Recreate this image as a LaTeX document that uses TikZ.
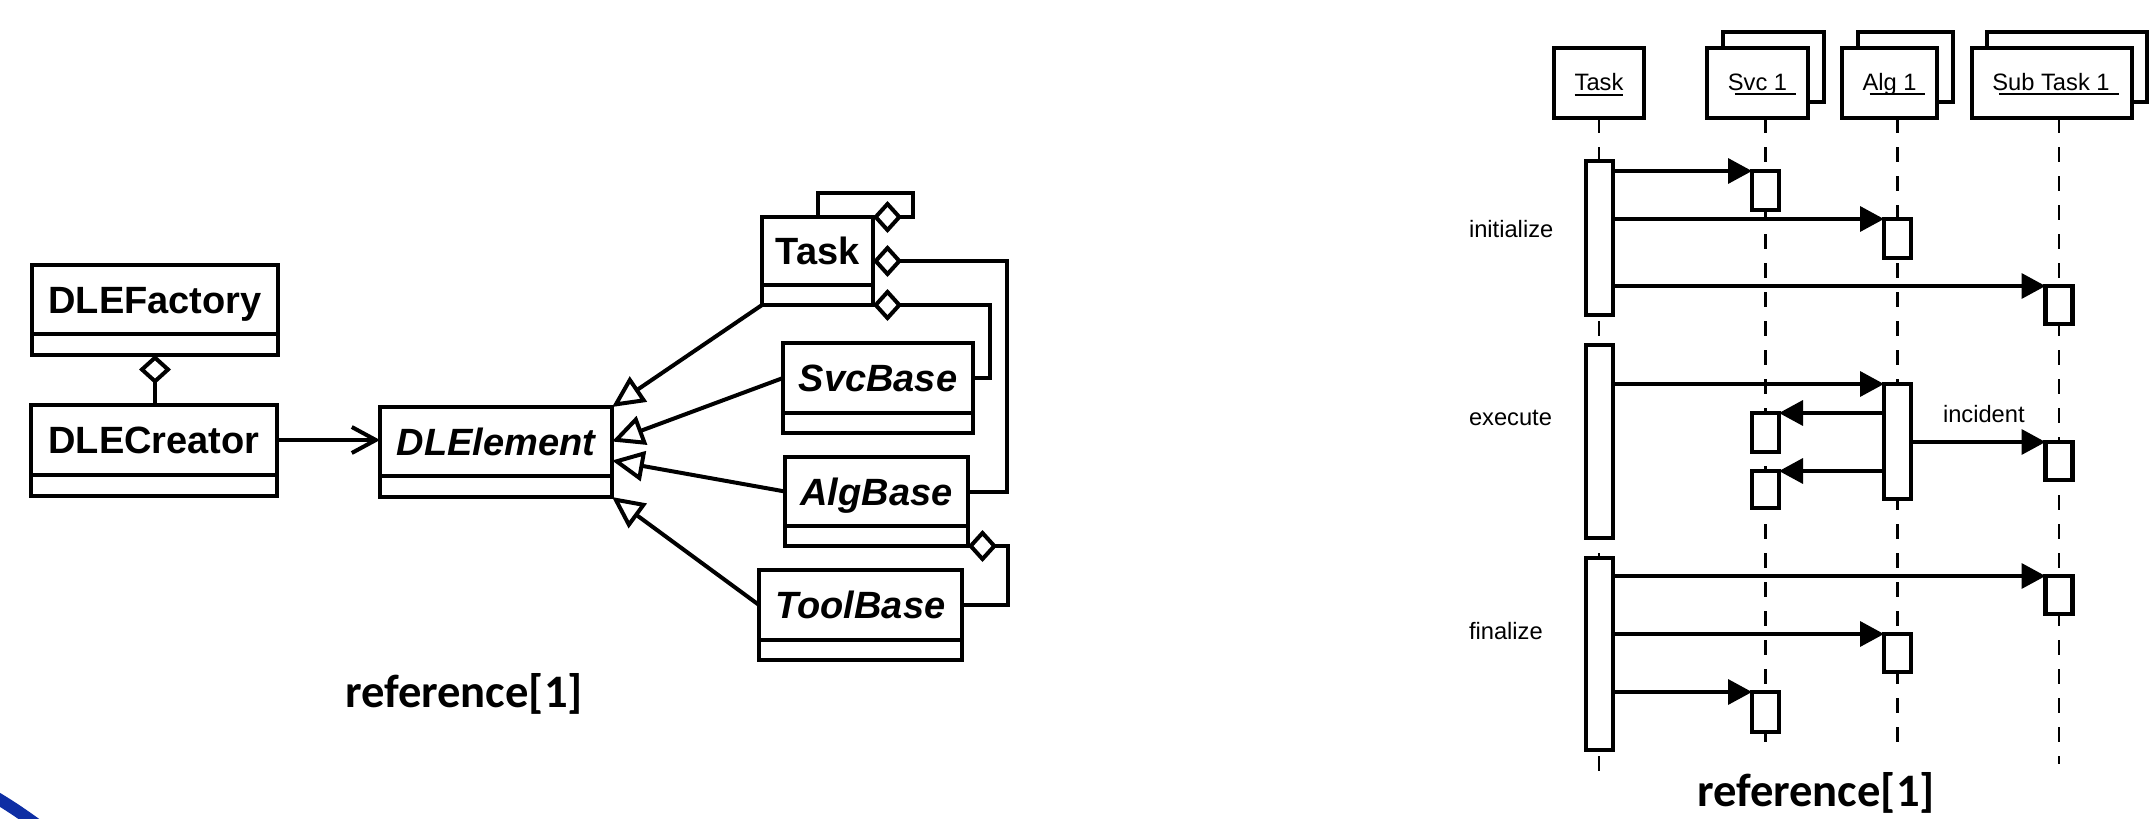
\documentclass[tikz,border=0pt]{standalone}
\usepackage{fontspec}
\setmainfont{Liberation Sans}
\newfontfamily\capfont{Carlito}
\usetikzlibrary{arrows.meta,calc}
\definecolor{arcblue}{RGB}{14,46,164}
\begin{document}
\begin{tikzpicture}[x=1pt,y=-1pt,
  every node/.style={inner sep=0pt, outer sep=0pt},
  cls/.style={draw, line width=4pt, fill=white, text height=27.2pt, text depth=0pt,
    font=\fontsize{38}{40}\selectfont\bfseries},
  clsit/.style={cls, font=\fontsize{38}{40}\selectfont\bfseries\itshape},
  clslow/.style={draw, line width=4pt, fill=white, anchor=north},
  link/.style={line width=4pt},
  agg/.style={link, {Diamond[open,length=29pt,width=32pt]}-},
  gen/.style={link, -{Triangle[open,length=32pt,width=30pt]}},
  nav/.style={link, -{Straight Barb[length=24pt,width=26pt]}},
  head/.style={draw, line width=4.5pt, fill=white, minimum height=70pt},
  act/.style={draw, line width=4.5pt, fill=white, minimum width=27pt, anchor=north},
  life/.style={line width=2.3pt, dash pattern=on 15pt off 14pt},
  msg/.style={line width=3.6pt, -{Triangle[length=24pt,width=25pt]}},
  seqtext/.style={font=\fontsize{23.7}{26}\selectfont},
  uline/.style={line width=2pt},
  caption/.style={font=\capfont\bfseries\fontsize{46.6}{50}\selectfont},
]
\useasboundingbox (0,0) rectangle (2153,819);

% corner swoosh
\begin{scope}
  \clip (0,0) rectangle (2153,819);
  \draw[arcblue, line width=12pt] (-40,778) .. controls (0,798) and (20,812) .. (55,838);
\end{scope}

% ---------------- class diagram ----------------
\node[cls, minimum width=246pt, minimum height=69pt] (fac) at (155,299.5) {DLEFactory};
\node[clslow, minimum width=246pt, minimum height=21pt] (fac-l) at (fac.south) {};
\node[cls, minimum width=246pt, minimum height=70pt] (cre) at (154,440) {DLECreator};
\node[clslow, minimum width=246pt, minimum height=21pt] (cre-l) at (cre.south) {};
\node[clsit, minimum width=232pt, minimum height=69pt] (dle) at (496,441.5) {DLElement};
\node[clslow, minimum width=232pt, minimum height=21pt] (dle-l) at (dle.south) {};
\node[cls, minimum width=111pt, minimum height=68pt] (task) at (817.5,251) {Task};
\node[clslow, minimum width=111pt, minimum height=20pt] (task-l) at (task.south) {};
\node[clsit, minimum width=190pt, minimum height=70pt] (svc) at (878,378) {SvcBase};
\node[clslow, minimum width=190pt, minimum height=20pt] (svc-l) at (svc.south) {};
\node[clsit, minimum width=183pt, minimum height=69pt] (alg) at (876.5,491.5) {AlgBase};
\node[clslow, minimum width=183pt, minimum height=20pt] (alg-l) at (alg.south) {};
\node[clsit, minimum width=203pt, minimum height=70pt] (tool) at (860.5,605) {ToolBase};
\node[clslow, minimum width=203pt, minimum height=20pt] (tool-l) at (tool.south) {};

\draw[agg] (fac-l.south) -- (fac-l.south |- cre.north);
\draw[nav] (cre.east) -- (cre.east -| dle.west);

\coordinate (dle-g3) at ($(dle.east)!0.55!(dle-l.north east)$);
\draw[gen] (task-l.south west) -- (dle.north east);
\draw[gen] (svc.west) -- (dle.east);
\draw[gen] (alg.west) -- (dle-g3);
\draw[gen] (tool.west) -- (dle-l.south east);

\coordinate (task-r) at ($(task.north east)!0.5!(task-l.south east)$);
\draw[agg] (task.north east) -- ++(40,0) -- ++(0,-24) -| (task.north);
\draw[agg] (task-r) -- ++(134,0) |- (alg.east);
\draw[agg] (task-l.south east) -- ++(117,0) |- (svc.east);
\draw[agg] (alg-l.south east) -- ++(40,0) |- (tool.east);

\node[caption, anchor=base west] (cap-l) at (345,707) {reference[1]};

% ---------------- sequence diagram ----------------
% lifeline heads (stacked ones have a shadow copy behind)
\node[head, minimum width=101pt] (ls-b) at (1773.5,67) {};
\node[head, minimum width=95pt] (la-b) at (1905.5,67) {};
\node[head, minimum width=160pt] (lu-b) at (2067,67) {};
\node[head, minimum width=90pt] (lt) at (1599,83) {};
\node[head, minimum width=101pt] (ls) at (1757.5,83) {};
\node[head, minimum width=95pt] (la) at (1889.5,83) {};
\node[head, minimum width=160pt] (lu) at (2052,83) {};

\node[seqtext, anchor=base] (lt-n) at (1599,90) {Task};
\node[seqtext, anchor=base] (ls-n) at (1757.5,90) {Svc 1};
\node[seqtext, anchor=base] (la-n) at (1889.5,90) {Alg 1};
\node[seqtext, anchor=base] (lu-n) at (2051,90) {Sub Task 1};
\draw[uline] ($(lt-n.base west)+(0,5)$) -- ($(lt-n.base east)+(0,5)$);
\draw[uline] ($(ls-n.base west)+(7,4)$) -- ($(ls-n.base east)+(9,4)$);
\draw[uline] ($(la-n.base west)+(7,4)$) -- ($(la-n.base east)+(8,4)$);
\draw[uline] ($(lu-n.base west)+(7,4)$) -- ($(lu-n.base east)+(9,4)$);

% lifelines
\draw[life] (lt.south) -- ++(0,667);
\draw[life] ($(ls.south)+(8,0)$) -- ++(0,627);
\draw[life] ($(la.south)+(8,0)$) -- ++(0,629);
\draw[life] ($(lu.south)+(7,0)$) -- ++(0,646);

% activations
\node[act, minimum height=154pt] (t1) at (1599.5,161) {};
\node[act, minimum height=193pt] (t2) at (1599.5,345) {};
\node[act, minimum height=192pt] (t3) at (1599.5,558) {};
\node[act, minimum height=39pt] (s1) at (1765.5,171) {};
\node[act, minimum height=39pt] (s2) at (1765.5,413) {};
\node[act, minimum height=37pt] (s3) at (1765.5,471) {};
\node[act, minimum height=40pt] (s4) at (1765.5,692) {};
\node[act, minimum height=39pt] (a1) at (1897.5,219) {};
\node[act, minimum height=115pt] (a2) at (1897.5,384) {};
\node[act, minimum height=38pt] (a3) at (1897.5,634) {};
\node[act, minimum height=38pt] (u1) at (2059,286) {};
\node[act, minimum height=38pt] (u2) at (2059,442) {};
\node[act, minimum height=38pt] (u3) at (2059,576) {};

% messages
\draw[msg] (t1.east |- s1.north) -- (s1.north west);
\draw[msg] (t1.east |- a1.north) -- (a1.north west);
\draw[msg] (t1.east |- u1.north) -- (u1.north west);
\draw[msg] (t2.east |- a2.north) -- (a2.north west);
\draw[msg] (a2.west |- s2.north) -- (s2.north east);
\draw[msg] (a2.west |- s3.north) -- (s3.north east);
\draw[msg] (a2.east |- u2.north) -- (u2.north west);
\draw[msg] (t3.east |- u3.north) -- (u3.north west);
\draw[msg] (t3.east |- a3.north) -- (a3.north west);
\draw[msg] (t3.east |- s4.north) -- (s4.north west);

% phase labels
\node[seqtext, anchor=base west] (l-init) at (1469,237) {initialize};
\node[seqtext, anchor=base west] (l-exec) at (1469,425) {execute};
\node[seqtext, anchor=base west] (l-fin) at (1469,639) {finalize};
\node[seqtext, anchor=base west] (l-inc) at (1943,422) {incident};

\node[caption, anchor=base west] (cap-r) at (1697,806) {reference[1]};
\end{tikzpicture}
\end{document}
